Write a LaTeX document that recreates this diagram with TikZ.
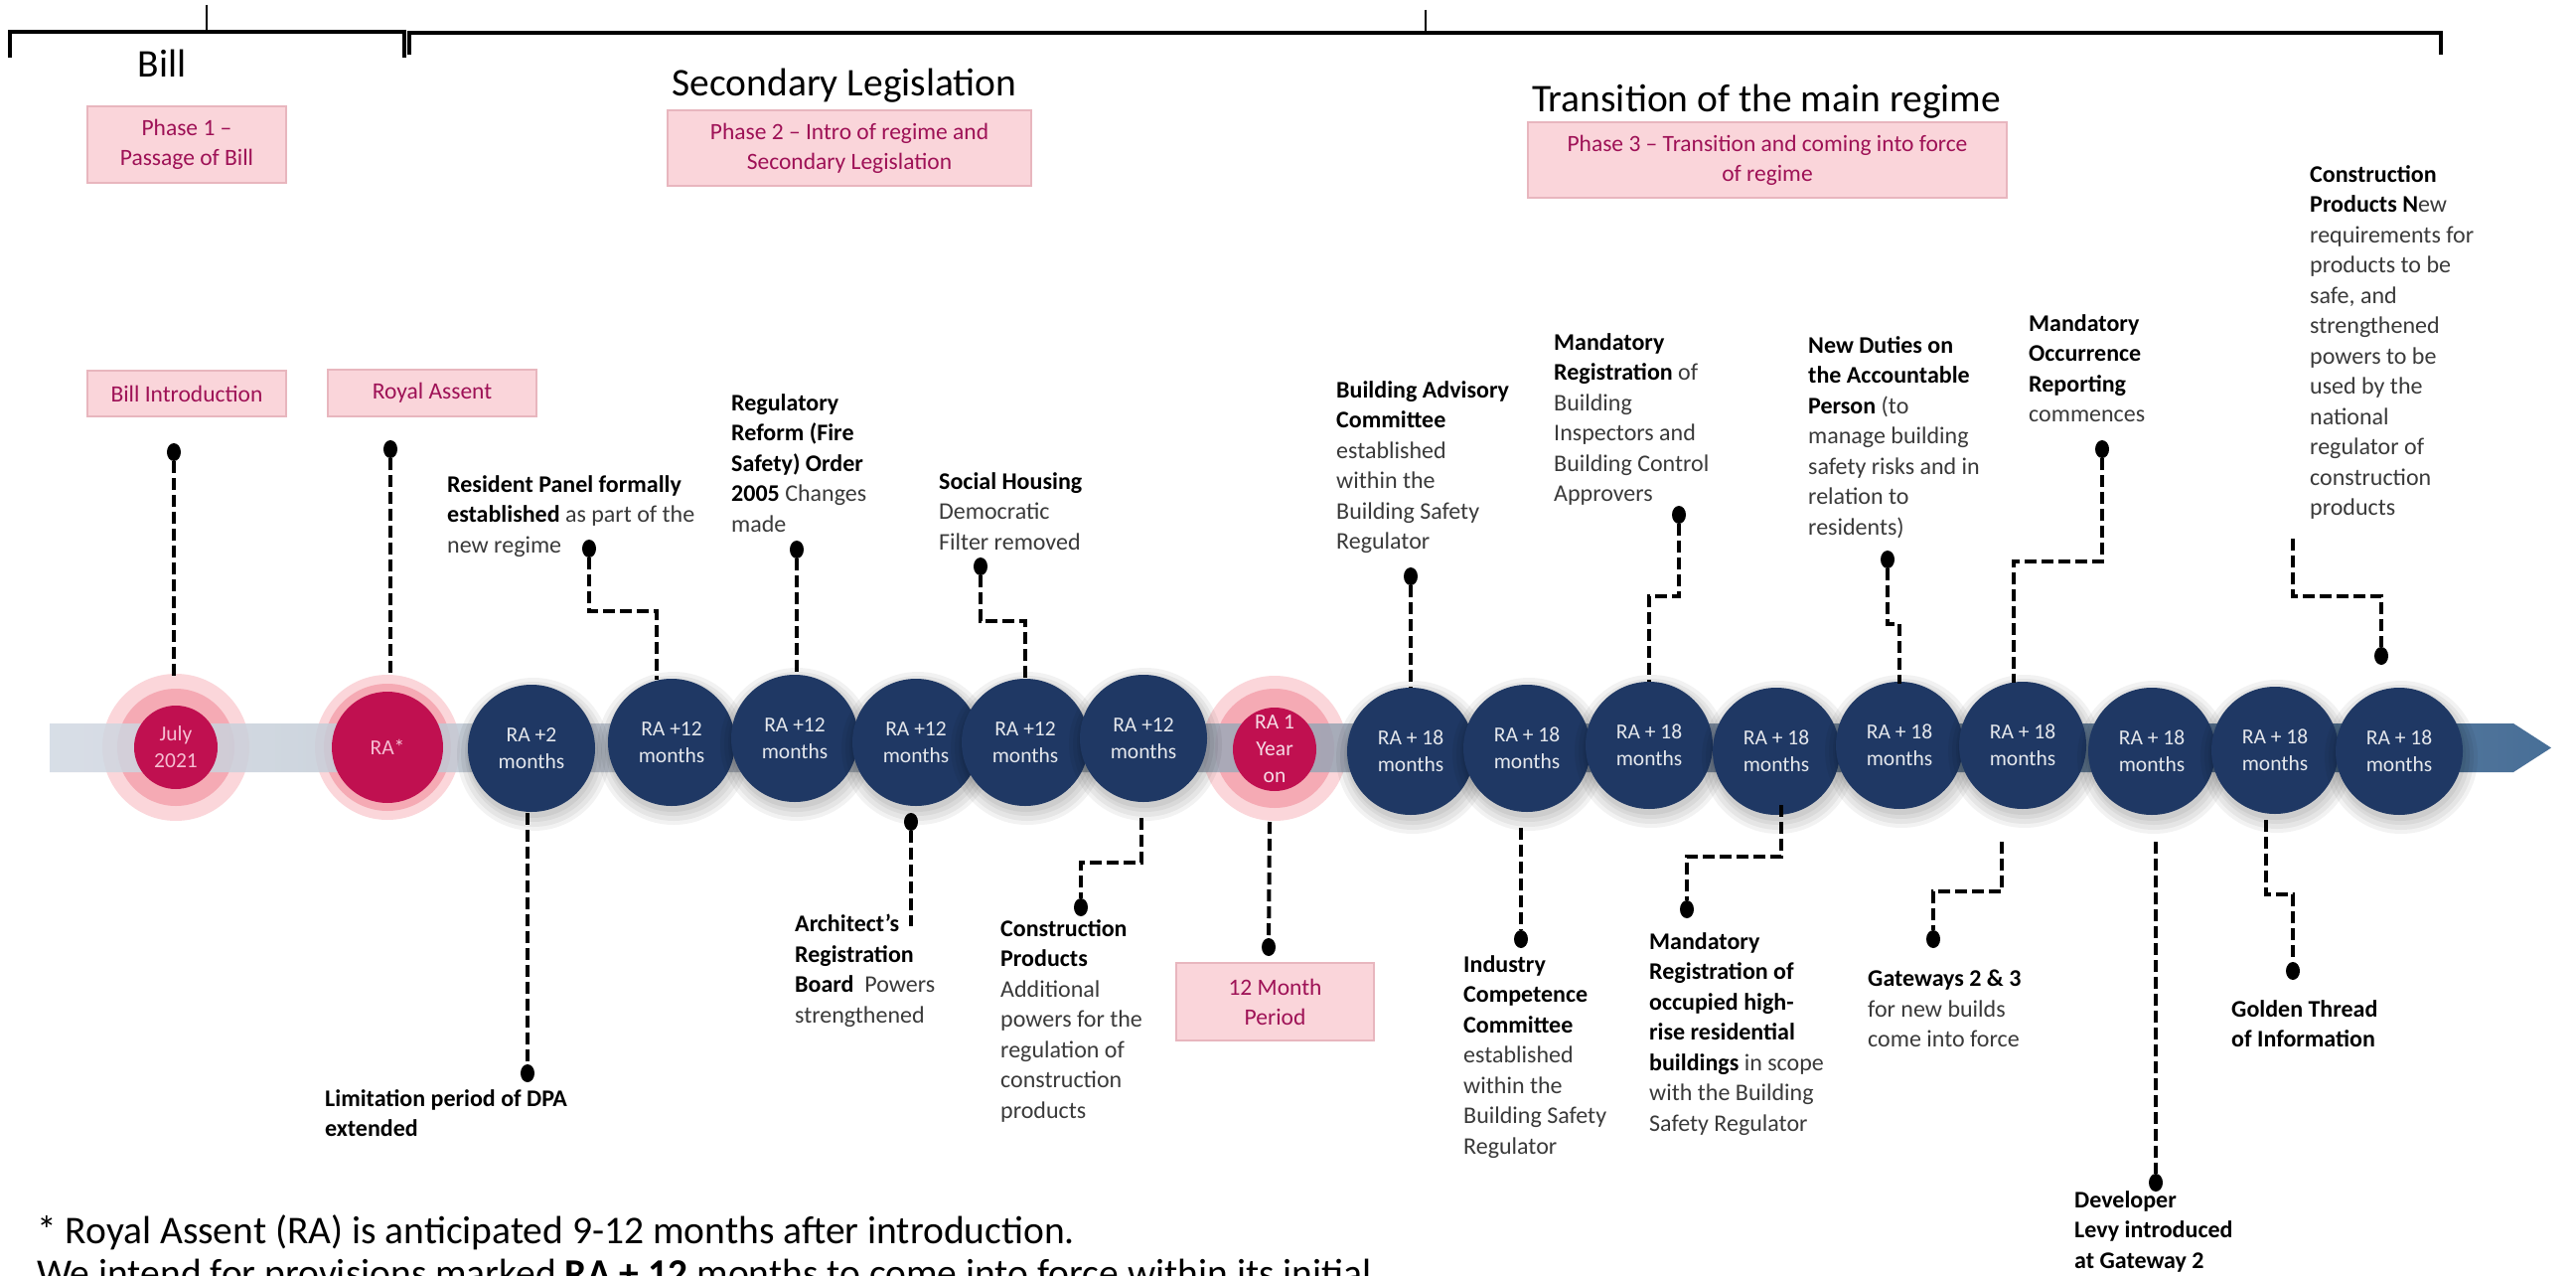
\documentclass[tikz,border=0pt]{standalone}
\usepackage{fontspec}
\setmainfont{Carlito}
\usetikzlibrary{shapes.geometric}
\definecolor{navyblue}{RGB}{31,56,100}
\definecolor{crim}{RGB}{192,16,80}
\definecolor{pinkA}{RGB}{251,214,218}
\definecolor{pinkB}{RGB}{245,170,180}
\definecolor{boxfill}{RGB}{250,213,218}
\definecolor{boxline}{RGB}{232,182,190}
\definecolor{boxtext}{RGB}{158,17,86}
\definecolor{regtext}{RGB}{58,58,58}
\definecolor{crimtext}{RGB}{246,190,210}
\definecolor{bandA}{RGB}{245,247,250}
\definecolor{bandB}{RGB}{216,223,232}
\definecolor{bandC}{RGB}{150,162,178}
\definecolor{bandD}{RGB}{26,76,128}
\pgfdeclarehorizontalshading{bandshade}{100bp}{color(0bp)=(bandA); color(22bp)=(bandB); color(52bp)=(bandC); color(78bp)=(bandD); color(100bp)=(bandD)}
\newcommand\bb[1]{{\bfseries\color{black}#1}}
\newcommand\lblfont{\fontsize{24}{30.5}\selectfont}
\newcommand\circfont{\fontsize{21.5}{27}\selectfont}
\newcommand\boxfont{\fontsize{23.5}{30}\selectfont}
\newcommand\headfont{\fontsize{39.5}{46}\selectfont}
\newcommand\footfont{\fontsize{39.5}{43}\selectfont}
\tikzset{
  conn/.style={line width=4pt, dash pattern=on 12pt off 5pt, black},
  dot/.style={ellipse, fill=black, minimum width=14pt, minimum height=18pt, inner sep=0pt},
  lbl/.style={anchor=north west, inner sep=0pt, align=left, font=\lblfont, text=regtext},
  navyc/.style={circle, fill=navyblue, minimum size=128pt, inner sep=0pt, align=center, text=white!88!navyblue, font=\circfont},
  crimc/.style={circle, fill=crim, inner sep=0pt, align=center, text=crimtext, font=\circfont},
  pinkbox/.style={rectangle, fill=boxfill, draw=boxline, line width=1.5pt, text=boxtext, font=\boxfont, align=center, inner sep=0pt},
  heading/.style={anchor=base, font=\headfont, text=black, inner sep=0pt},
  shad/.style={fill=black, opacity=0.05},
  bracket/.style={line width=3.5pt, black},
  tick/.style={line width=2.5pt, black},
  foot/.style={anchor=base west, inner sep=0pt, font=\footfont, text=black},
}
\newcommand\navycirc[4]{%
  \fill[shad] (#2+2,#3+6) circle (77pt);
  \fill[shad] (#2+2,#3+6) circle (73pt);
  \fill[shad] (#2+2,#3+5) circle (69pt);
  \fill[shad] (#2+1,#3+4) circle (66pt);
  \node[navyc] (#1) at (#2,#3) {#4};}
\begin{document}
\begin{tikzpicture}[x=1pt,y=-1pt]
\useasboundingbox (0,0) rectangle (2593,1284);
\clip (0,0) rectangle (2593,1284);
\fill[white] (0,0) rectangle (2593,1284);

% ---------- top brackets ----------
\draw[bracket] (10,58) -- (10,32) -- (407,32) -- (407,58);
\draw[tick] (208,5) -- (208,32);
\draw[bracket] (412,55) -- (412,33) -- (2457,33) -- (2457,55);
\draw[tick] (1435,10) -- (1435,33);

% ---------- headings ----------
\node[heading] (hBill) at (163,78) {Bill};
\node[heading] (hSec) at (850,97) {Secondary Legislation};
\node[heading] (hTra) at (1778,113) {Transition of the main regime};

% ---------- pink boxes ----------
\node[pinkbox, minimum width=200pt, minimum height=77pt] (ph1) at (188,145.5) {Phase 1 –\\Passage of Bill};
\node[pinkbox, minimum width=366pt, minimum height=76pt] (ph2) at (855,149) {Phase 2 – Intro of regime and\\Secondary Legislation};
\node[pinkbox, minimum width=482pt, minimum height=76pt] (ph3) at (1779,161) {Phase 3 – Transition and coming into force\\of regime};
\node[pinkbox, minimum width=200pt, minimum height=46pt] (bIntro) at (188,396) {Bill Introduction};
\node[pinkbox, minimum width=210pt, minimum height=47pt] (bRA) at (435,395.5) {Royal Assent};
\node[pinkbox, minimum width=199pt, minimum height=78pt] (b12) at (1283.5,1008) {12 Month\\Period};

% ---------- glows ----------
\fill[pinkA] (177,752) circle (74pt);
\fill[pinkB] (177,752) circle (59pt);
\fill[pinkA] (390,752) circle (73pt);
\fill[pinkB] (390,752) circle (64pt);
\fill[pinkA] (1283,753) circle (73pt);
\fill[pinkB] (1283,753) circle (60pt);

% ---------- band ----------
\shade[shading=bandshade, opacity=0.85] (50,728) -- (2530,728) -- (2568,752.5) -- (2530,777) -- (50,777) -- cycle;

% ---------- crimson circles ----------
\node[crimc, minimum size=84pt] (july) at (177,752) {July\\2021};
\node[crimc, minimum size=112pt] (ra) at (390,752) {RA*};
\node[crimc, minimum size=84pt, text=white!85!crim] (year) at (1283,754) {RA 1\\Year\\on};

% ---------- navy circles ----------
\navycirc{m2}{535}{753}{RA +2\\months}
\navycirc{ma}{676}{747}{RA +12\\months}
\navycirc{mb}{800}{743}{RA +12\\months}
\navycirc{mc}{922}{747}{RA +12\\months}
\navycirc{md}{1032}{747}{RA +12\\months}
\navycirc{me}{1151}{743}{RA +12\\months}
\navycirc{e1}{1420}{756}{RA + 18\\months}
\navycirc{e2}{1537}{753}{RA + 18\\months}
\navycirc{e3}{1660}{750}{RA + 18\\months}
\navycirc{e4}{1788}{756}{RA + 18\\months}
\navycirc{e5}{1912}{750}{RA + 18\\months}
\navycirc{e6}{2036}{750}{RA + 18\\months}
\navycirc{e7}{2166}{756}{RA + 18\\months}
\navycirc{e8}{2290}{755}{RA + 18\\months}
\navycirc{e9}{2415}{756}{RA + 18\\months}

% ---------- dots ----------
\node[dot] (dA) at (175,455) {};
\node[dot] (dB) at (393,452) {};
\node[dot] (dC) at (593,552) {};
\node[dot] (dD) at (802,553) {};
\node[dot] (dE) at (987,570) {};
\node[dot] (dF) at (1420,580) {};
\node[dot] (dG) at (1690,518) {};
\node[dot] (dH) at (1900,563) {};
\node[dot] (dI) at (2116,452) {};
\node[dot] (dJ) at (2397,660) {};
\node[dot] (dK) at (531,1080) {};
\node[dot] (dL) at (917,827) {};
\node[dot] (dM) at (1088,913) {};
\node[dot] (dN) at (1277,953) {};
\node[dot] (dO) at (1531,945) {};
\node[dot] (dP) at (1698,915) {};
\node[dot] (dQ) at (1946,945) {};
\node[dot] (dR) at (2170,1190) {};
\node[dot] (dS) at (2308,977) {};

% ---------- connector coordinates ----------
\coordinate (eA) at (175,681);
\coordinate (eB) at (393,679);
\coordinate (bC1) at (593,615); \coordinate (bC2) at (661,615); \coordinate (eC) at (661,684);
\coordinate (eD) at (802,680);
\coordinate (bE1) at (987,625); \coordinate (bE2) at (1032,625); \coordinate (eE) at (1032,682);
\coordinate (eF) at (1420,692);
\coordinate (bG1) at (1690,600); \coordinate (bG2) at (1660,600); \coordinate (eG) at (1660,686);
\coordinate (bH1) at (1900,628); \coordinate (bH2) at (1912,628); \coordinate (eH) at (1912,688);
\coordinate (bI1) at (2116,565); \coordinate (bI2) at (2027,565); \coordinate (eI) at (2027,687);
\coordinate (sJ) at (2308,542); \coordinate (bJ1) at (2308,600); \coordinate (bJ2) at (2397,600);
\coordinate (sK) at (531,818);
\coordinate (eL) at (917,932);
\coordinate (sM) at (1149,823); \coordinate (bM1) at (1149,868); \coordinate (bM2) at (1088,868);
\coordinate (sN) at (1278,827);
\coordinate (sO) at (1531,833);
\coordinate (sP) at (1793,810); \coordinate (bP1) at (1793,862); \coordinate (bP2) at (1698,862);
\coordinate (sQ) at (2015,847); \coordinate (bQ1) at (2015,897); \coordinate (bQ2) at (1946,897);
\coordinate (sR) at (2170,847);
\coordinate (sS) at (2281,825); \coordinate (bS1) at (2281,900); \coordinate (bS2) at (2308,900);

% ---------- connectors ----------
\draw[conn] (dA) -- (eA);
\draw[conn] (dB) -- (eB);
\draw[conn] (dC) -- (bC1) -- (bC2) -- (eC);
\draw[conn] (dD) -- (eD);
\draw[conn] (dE) -- (bE1) -- (bE2) -- (eE);
\draw[conn] (dF) -- (eF);
\draw[conn] (dG) -- (bG1) -- (bG2) -- (eG);
\draw[conn] (dH) -- (bH1) -- (bH2) -- (eH);
\draw[conn] (dI) -- (bI1) -- (bI2) -- (eI);
\draw[conn] (sJ) -- (bJ1) -- (bJ2) -- (dJ);
\draw[conn] (sK) -- (dK);
\draw[conn] (dL) -- (eL);
\draw[conn] (sM) -- (bM1) -- (bM2) -- (dM);
\draw[conn] (sN) -- (dN);
\draw[conn] (sO) -- (dO);
\draw[conn] (sP) -- (bP1) -- (bP2) -- (dP);
\draw[conn] (sQ) -- (bQ1) -- (bQ2) -- (dQ);
\draw[conn] (sR) -- (dR);
\draw[conn] (sS) -- (bS1) -- (bS2) -- (dS);

% ---------- labels above ----------
\node[lbl] (tC) at (450,478) {\bb{Resident Panel formally}\\\bb{established} as part of the\\new regime};
\node[lbl] (tD) at (736,396) {\bb{Regulatory}\\\bb{Reform (Fire}\\\bb{Safety) Order}\\\bb{2005} Changes\\made};
\node[lbl] (tE) at (945,475) {\bb{Social Housing}\\Democratic\\Filter removed};
\node[lbl] (tF) at (1345,383) {\bb{Building Advisory}\\\bb{Committee}\\established\\within the\\Building Safety\\Regulator};
\node[lbl] (tG) at (1564,335) {\bb{Mandatory}\\\bb{Registration} of\\Building\\Inspectors and\\Building Control\\Approvers};
\node[lbl] (tH) at (1820,338) {\bb{New Duties on}\\\bb{the Accountable}\\\bb{Person} (to\\manage building\\safety risks and in\\relation to\\residents)};
\node[lbl] (tI) at (2042,316) {\bb{Mandatory}\\\bb{Occurrence}\\\bb{Reporting}\\commences};
\node[lbl] (tJ) at (2325,166) {\bb{Construction}\\\bb{Products N}ew\\requirements for\\products to be\\safe, and\\strengthened\\powers to be\\used by the\\national\\regulator of\\construction\\products};

% ---------- labels below ----------
\node[lbl] (tK) at (327,1096) {\bb{Limitation period of DPA}\\\bb{extended}};
\node[lbl] (tL) at (800,920) {\bb{Architect’s}\\\bb{Registration}\\\bb{Board}~ Powers\\strengthened};
\node[lbl] (tM) at (1007,925) {\bb{Construction}\\\bb{Products}\\Additional\\powers for the\\regulation of\\construction\\products};
\node[lbl] (tO) at (1473,961) {\bb{Industry}\\\bb{Competence}\\\bb{Committee}\\established\\within the\\Building Safety\\Regulator};
\node[lbl] (tP) at (1660,938) {\bb{Mandatory}\\\bb{Registration of}\\\bb{occupied high-}\\\bb{rise residential}\\\bb{buildings} in scope\\with the Building\\Safety Regulator};
\node[lbl] (tQ) at (1880,976) {\bb{Gateways 2 \& 3}\\for new builds\\come into force};
\node[lbl] (tR) at (2088,1198) {\bb{Developer}\\\bb{Levy introduced}\\\bb{at Gateway 2}};
\node[lbl] (tS) at (2246,1006) {\bb{Golden Thread}\\\bb{of Information}};

% ---------- footnote ----------
\node[foot] (fn1) at (37,1251) {* Royal Assent (RA) is anticipated 9-12 months after introduction.};
\node[foot] (fn2) at (37,1294) {We intend for provisions marked \textbf{RA + 12} months to come into force within its initial};
\end{tikzpicture}
\end{document}
